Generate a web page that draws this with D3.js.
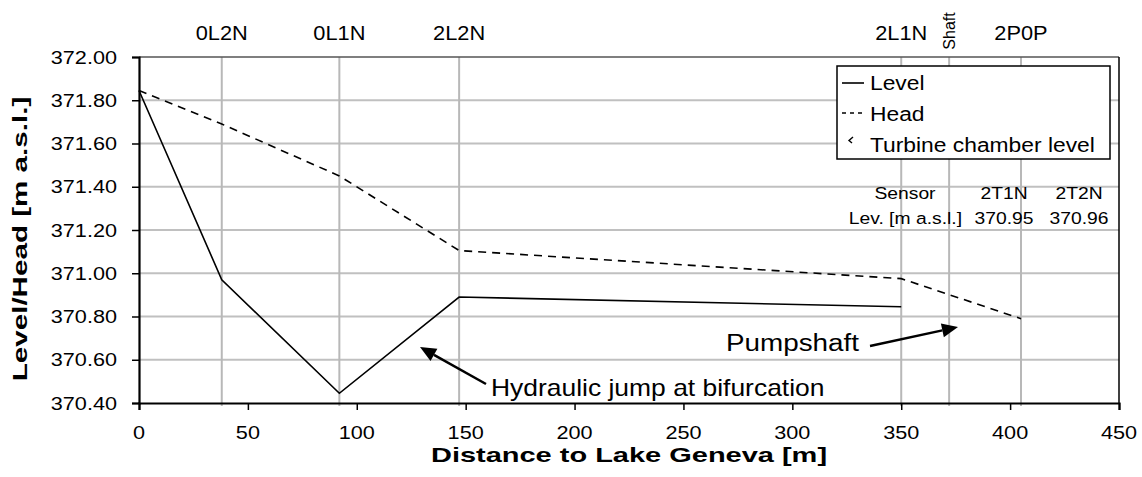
<!DOCTYPE html>
<html>
<head>
<meta charset="utf-8">
<script src="https://cdnjs.cloudflare.com/ajax/libs/d3/7.8.5/d3.min.js"></script>
<style>
  body { margin: 0; background: #fff; }
  text { font-family: "Liberation Sans", Arial, sans-serif; fill: #000; }
</style>
</head>
<body>
<div id="chart"></div>
<script>
"use strict";

// sensor positions along the gallery
var sensorNames = ['0L2N', '0L1N', '2L2N', '2L1N', 'Shaft', '2P0P'];
var sensorDist = [38, 92, 147, 350, 372, 405];

// water level
var levelDist = [0, 38, 92, 147, 350];
var levelValues = [371.845, 370.97, 370.445, 370.89, 370.845];

// energy head
var headDist = [0, 38, 92, 147, 350, 405];
var headValues = [371.845, 371.69, 371.45, 371.105, 370.975, 370.79];

// turbine chamber table
var turbineSensors = ['2T1N', '2T2N'];
var turbineLevels = [370.95, 370.96];

var xTicks = [0, 50, 100, 150, 200, 250, 300, 350, 400, 450];
var yTicks = [370.4, 370.6, 370.8, 371.0, 371.2, 371.4, 371.6, 371.8, 372.0];

var W = 1142, H = 477;
var SX = 1.17; // glyphs in the picture are a bit wide

var svg = d3.select('#chart').append('svg').attr('width', W).attr('height', H);

var x = d3.scaleLinear().domain([0, 450]).range([139, 1119]);
var y = d3.scaleLinear().domain([370.4, 372]).range([403, 57]);

function txt(g, px, py, s, size, anchor, weight, sx, rot) {
  var t = g.append('text')
    .attr('transform', 'translate(' + px + ',' + py + ')' + (rot ? ' rotate(' + rot + ')' : '') + ' scale(' + sx + ',1)')
    .attr('text-anchor', anchor || 'middle')
    .attr('dy', '0.35em')
    .style('font-size', size + 'px')
    .text(s);
  if (weight) t.style('font-weight', weight);
  return t;
}

// grid
var grid = svg.append('g');
grid.selectAll('line.h').data(yTicks.slice(1, -1)).enter().append('line')
  .attr('x1', x(0)).attr('x2', x(450))
  .attr('y1', function (d) { return y(d); }).attr('y2', function (d) { return y(d); })
  .style('stroke', '#c0c0c0').style('stroke-width', 2);
grid.selectAll('line.v').data(sensorDist).enter().append('line')
  .attr('x1', function (d) { return x(d); }).attr('x2', function (d) { return x(d); })
  .attr('y1', y(372)).attr('y2', y(370.4) + 3)
  .style('stroke', '#b8b8b8').style('stroke-width', 2);

// series
var line = d3.line().x(function (d) { return x(d[0]); }).y(function (d) { return y(d[1]); });
svg.append('path').datum(d3.zip(levelDist, levelValues)).attr('d', line)
  .style('fill', 'none').style('stroke', '#000').style('stroke-width', 1.6);
svg.append('path').datum(d3.zip(headDist, headValues)).attr('d', line)
  .style('fill', 'none').style('stroke', '#000').style('stroke-width', 1.6)
  .style('stroke-dasharray', '8,6');

// frame + axes
svg.append('line').attr('x1', x(0)).attr('x2', x(450)).attr('y1', y(372)).attr('y2', y(372))
  .style('stroke', '#555').style('stroke-width', 1.5);
svg.append('line').attr('x1', x(450)).attr('x2', x(450)).attr('y1', y(372)).attr('y2', y(370.4))
  .style('stroke', '#000').style('stroke-width', 1.5);

var yAxis = svg.append('g').attr('transform', 'translate(' + x(0) + ',0)')
  .call(d3.axisLeft(y).tickValues(yTicks).tickSize(7).tickFormat(''));
var xAxis = svg.append('g').attr('transform', 'translate(0,' + y(370.4) + ')')
  .call(d3.axisBottom(x).tickValues(xTicks).tickSize(7).tickFormat(''));
[yAxis, xAxis].forEach(function (a) {
  a.select('.domain').style('stroke', '#000').style('stroke-width', 2.2);
  a.selectAll('.tick line').style('stroke', '#000').style('stroke-width', 1.5);
});
yTicks.forEach(function (v) { txt(svg, 117, y(v), d3.format('.2f')(v), 19, 'end', null, 1.14); });
xTicks.forEach(function (v) { txt(svg, x(v), 432, v, 19, 'middle', null, 1.14); });

txt(svg, 629, 455, 'Distance to Lake Geneva [m]', 21, 'middle', 'bold', 1.38);
txt(svg, 20, 239, 'Level/Head [m a.s.l.]', 21, 'middle', 'bold', 1.41, -90);

// sensor labels on top
sensorNames.forEach(function (n, i) {
  if (n === 'Shaft') txt(svg, x(sensorDist[i]), 31, n, 16, 'middle', null, 1.0, -90);
  else txt(svg, x(sensorDist[i]), 33, n, 20, 'middle', null, 1.09);
});

// legend
var lg = svg.append('g');
lg.append('rect').attr('x', 837).attr('y', 66).attr('width', 273).attr('height', 93)
  .style('fill', '#fff').style('stroke', '#000').style('stroke-width', 1.5);
lg.append('line').attr('x1', 842).attr('x2', 864).attr('y1', 83).attr('y2', 83)
  .style('stroke', '#000').style('stroke-width', 1.6);
lg.append('line').attr('x1', 842).attr('x2', 864).attr('y1', 113).attr('y2', 113)
  .style('stroke', '#000').style('stroke-width', 1.6).style('stroke-dasharray', '4,4');
lg.append('path').attr('d', 'M853,137 L849,140.5 L852,143')
  .style('fill', 'none').style('stroke', '#000').style('stroke-width', 1.4);
txt(lg, 870, 83.5, 'Level', 19.5, 'start', null, SX);
txt(lg, 870, 114, 'Head', 19.5, 'start', null, SX);
txt(lg, 870, 145, 'Turbine chamber level', 19.5, 'start', null, SX);

// sensor table
txt(svg, 905, 193, 'Sensor', 16.5, 'middle', null, SX);
txt(svg, 962, 218, 'Lev. [m a.s.l.]', 16.5, 'end', null, SX);
turbineSensors.forEach(function (s, i) {
  var cx = [1004, 1079][i];
  txt(svg, cx, 193, s, 16.5, 'middle', null, SX);
  txt(svg, cx, 218, d3.format('.2f')(turbineLevels[i]), 16.5, 'middle', null, SX);
});

// annotations
function arrow(x1, y1, x2, y2) {
  var a = Math.atan2(y2 - y1, x2 - x1), L = 16, w = 7;
  var bx = x2 - L * Math.cos(a), by = y2 - L * Math.sin(a);
  svg.append('line').attr('x1', x1).attr('y1', y1).attr('x2', bx).attr('y2', by)
    .style('stroke', '#000').style('stroke-width', 2.5);
  svg.append('path')
    .attr('d', 'M' + x2 + ',' + y2 + 'L' + (bx - w * Math.sin(a)) + ',' + (by + w * Math.cos(a)) +
      'L' + (bx + w * Math.sin(a)) + ',' + (by - w * Math.cos(a)) + 'Z')
    .style('fill', '#000');
}
arrow(486, 384, 420, 347);
arrow(870, 346, 958, 327);
txt(svg, 491, 388, 'Hydraulic jump at bifurcation', 23, 'start', null, 1.15);
txt(svg, 726, 343, 'Pumpshaft', 23, 'start', null, 1.21);
</script>
</body>
</html>
